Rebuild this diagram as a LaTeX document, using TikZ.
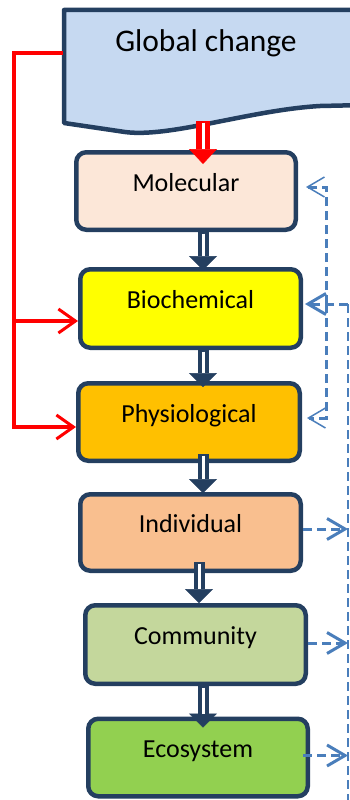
\documentclass[tikz,border=0pt]{standalone}
\usepackage{fontspec}
\setmainfont{Carlito}
\usetikzlibrary{arrows.meta,calc}
\definecolor{navy}{HTML}{243F60}
\definecolor{gcfill}{HTML}{C6D9F1}
\definecolor{molfill}{HTML}{FCE7D8}
\definecolor{biofill}{HTML}{FFFF00}
\definecolor{phyfill}{HTML}{FFC000}
\definecolor{indfill}{HTML}{F9BF8F}
\definecolor{comfill}{HTML}{C4D79C}
\definecolor{ecofill}{HTML}{92D050}
\definecolor{redc}{HTML}{FF0000}
\definecolor{bluec}{HTML}{4A7EBB}
\begin{document}
\begin{tikzpicture}[x=1pt,y=-1pt,
  box/.style={draw=navy, line width=4.5pt, rounded corners=10pt, inner sep=0pt,
    minimum width=220pt, minimum height=78pt,
    font=\fontsize{26}{30}\selectfont, text height=18pt, text depth=18pt},
  navyarr/.style={draw=navy, line width=11pt, -{Triangle[length=14pt,width=28pt,line width=0.5pt]},
    postaction={draw=white, line width=3pt, -, shorten >=14pt, shorten <=1.5pt}},
  redarr/.style={draw=redc, line width=14pt, -{Triangle[length=15pt,width=28pt,line width=0.5pt]},
    postaction={draw=white, line width=3pt, -, shorten >=15pt, shorten <=1.5pt}},
  redl/.style={draw=redc, line width=3.5pt},
  redtip/.style={-{Straight Barb[length=17pt,width=24pt,line width=3pt]}},
  bluedash/.style={draw=bluec, line width=3pt, dash pattern=on 9pt off 5pt},
  bluetipthin/.style={-{Straight Barb[length=17pt,width=20pt,line width=1.5pt]}},
  bluetip/.style={-{Straight Barb[length=18pt,width=21pt,line width=3pt]}}
]
\useasboundingbox (0,0) rectangle (350,800);

% Global change document shape
\draw[draw=navy, fill=gcfill, line width=4.5pt, line join=round]
  (64,10) -- (365,10) -- (365,105) -- (320,106)
  .. controls (250,110) and (170,138) .. (125,132) -- (64,123) -- cycle;
\node[anchor=base, font=\fontsize{31.5}{36}\selectfont] (gctext) at (206,52) {Global change};

% boxes
\node[box, fill=molfill, minimum width=219.5pt, minimum height=77.5pt] (mol) at (186,191) {Molecular};
\node[box, fill=biofill, minimum width=220.5pt, minimum height=78.5pt] (bio) at (190.5,308.5) {Biochemical};
\node[box, fill=phyfill, minimum width=221.5pt, minimum height=77.5pt] (phys) at (189,422) {Physiological};
\node[box, fill=indfill, minimum width=220.5pt, minimum height=76.5pt] (ind) at (190.5,532.5) {Individual};
\node[box, fill=comfill, minimum width=220.5pt, minimum height=78.5pt] (comm) at (195.5,644.5) {Community};
\node[box, fill=ecofill, minimum width=219.5pt, minimum height=77.5pt] (eco) at (198,757.5) {Ecosystem};

% helper coordinates
\coordinate (ax) at (203,0);
\coordinate (axb) at (199,0);
\coordinate (gcL) at (63,53);
\coordinate (gcB) at (203,121);
\coordinate (rtr) at (14,321);
\coordinate (rp) at (0,427);
\coordinate (jn) at (326,304);
\coordinate (rt) at (348,304);
\coordinate (rbot) at (348,805);

% red connectors
\draw[redl, redtip] (gcL) -- (14,53) |- (phys.west |- rp);
\draw[redl, redtip] (rtr) -- (bio.west |- rtr);
\draw[redarr] (gcB) -- ($(mol.north -| ax)+(0,14)$);

% navy block arrows
\draw[navyarr] (mol.south -| ax) -- ($(bio.north -| ax)+(0,3)$);
\draw[navyarr] (bio.south -| ax) -- ($(phys.north -| ax)+(0,6)$);
\draw[navyarr] ($(phys.south -| ax)+(0,-9)$) -- ($(ind.north -| ax)+(0,1)$);
\draw[navyarr] ($(ind.south -| axb)+(0,-11)$) -- ($(comm.north -| axb)+(0,0)$);
\draw[navyarr] (comm.south -| ax) -- ($(eco.north -| ax)+(0,11)$);

% blue dashed feedback connectors
\draw[bluedash, bluetipthin] (jn) |- ($(mol.east)+(8,-4)$);
\draw[bluedash, bluetipthin] (jn) |- ($(phys.east)+(5,-4)$);
\draw[bluedash, bluetip] (rt) -- ($(bio.east)+(2,-4.5)$);
\draw[bluedash, line width=2pt] (rt) -- (rbot);
\draw[bluedash, bluetip] ($(ind.east)+(0,-3.5)$) -- (rt |- {$(ind.east)+(0,-3.5)$});
\draw[bluedash, bluetip] ($(comm.east)+(0,-1.5)$) -- (rt |- {$(comm.east)+(0,-1.5)$});
\draw[bluedash, bluetip] ($(eco.east)+(-7,-2)$) -- (rt |- {$(eco.east)+(0,-2)$});
\end{tikzpicture}
\end{document}
